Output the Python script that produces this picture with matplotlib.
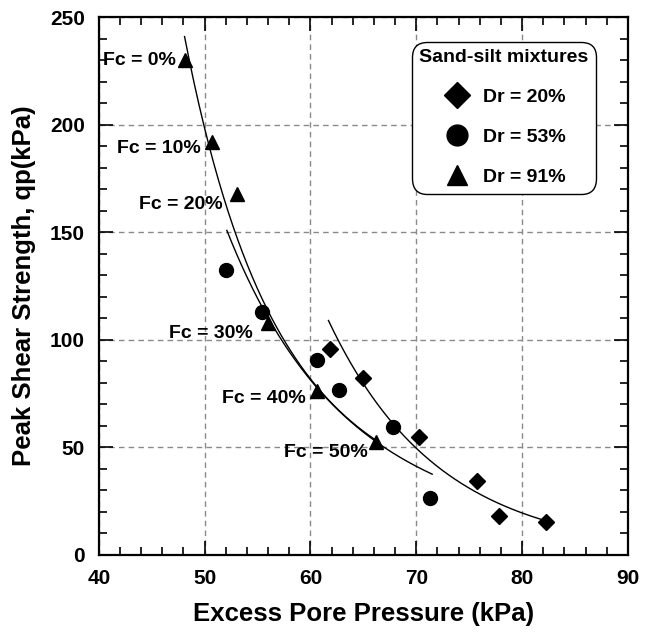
import numpy as np
import matplotlib
matplotlib.use('agg')
import matplotlib.pyplot as plt
from matplotlib.lines import Line2D

plt.rcParams['font.family'] = ['Liberation Sans', 'DejaVu Sans']
plt.rcParams['font.weight'] = 'bold'

# data points
dr20_x = [61.8, 65.0, 70.3, 75.7, 77.8, 82.3]
dr20_y = [95.7, 82.3, 55.0, 34.4, 18.0, 15.3]

dr53_x = [52.0, 55.4, 60.6, 62.7, 67.8, 71.3]
dr53_y = [132.5, 113.0, 90.6, 76.7, 59.5, 26.5]

dr91_x = [48.1, 50.7, 53.1, 56.0, 60.6, 66.2]
dr91_y = [230.0, 192.0, 168.0, 108.0, 76.0, 52.5]

fc_labels = ['Fc = 0%', 'Fc = 10%', 'Fc = 20%', 'Fc = 30%', 'Fc = 40%', 'Fc = 50%']
fc_label_x = [47.3, 49.6, 51.7, 54.55, 59.6, 65.4]
fc_label_y = [230, 189, 163, 102.7, 72.5, 47.4]

# points
curve91_x = [48.1, 50.02, 52.85, 57.58, 66.3]
curve91_y = [239.0, 199.8, 151.0, 98.5, 53.0]
curve53_x = [52.1, 57.3, 61.0, 67.2, 69.7, 71.5]
curve53_y = [152.0, 98.5, 75.0, 50.0, 42.7, 36.7]
curve20_x = [61.7, 67.8, 70.0, 75.7, 80.0, 82.2]
curve20_y = [109.7, 59.5, 50.2, 29.3, 19.5, 15.8]


def trend(xs, ys):
    # quadratic fit in log space, drawn between the end points
    c = np.polyfit(xs, np.log(ys), 2)
    xx = np.linspace(min(xs), max(xs), 200)
    return xx, np.exp(np.polyval(c, xx))


fig = plt.figure(figsize=(6.46, 6.37), dpi=100)
ax = fig.add_axes([0.153, 0.129, 0.819, 0.844])

ax.grid(True, which='major', color='#8a8a8a', linestyle=(0, (4, 3)), linewidth=1)
ax.set_axisbelow(True)

for cx, cy in [(curve91_x, curve91_y), (curve53_x, curve53_y), (curve20_x, curve20_y)]:
    xx, yy = trend(cx, cy)
    ax.plot(xx, yy, color='black', linewidth=1.0, zorder=2)

ax.plot(dr20_x, dr20_y, 'D', color='black', markersize=8.5, linestyle='none', zorder=3)
ax.plot(dr53_x, dr53_y, 'o', color='black', markersize=10, linestyle='none', zorder=3)
ax.plot(dr91_x, dr91_y, '^', color='black', markersize=9.5, linestyle='none', zorder=3)

for t, lx, ly in zip(fc_labels, fc_label_x, fc_label_y):
    ax.text(lx, ly, t, ha='right', va='center', fontsize=14, fontweight='bold')

ax.set_xlim(40, 90)
ax.set_ylim(0, 250)
ax.set_xticks(np.arange(40, 91, 10))
ax.set_yticks(np.arange(0, 251, 50))
ax.set_xticks(np.arange(40, 91, 2), minor=True)
ax.set_yticks(np.arange(0, 251, 10), minor=True)
ax.tick_params(which='both', direction='in', top=True, right=True, width=1.2)
ax.tick_params(which='major', length=10, labelsize=15, pad=10)
ax.tick_params(which='minor', length=6)
for s in ax.spines.values():
    s.set_linewidth(1.6)

ax.set_xlabel('Excess Pore Pressure (kPa)', fontsize=18.5, fontweight='bold', labelpad=10)
ax.set_ylabel('Peak Shear Strength, qp(kPa)', fontsize=18.5, fontweight='bold', labelpad=10)

handles = [Line2D([], [], marker='D', color='black', linestyle='none', markersize=13),
           Line2D([], [], marker='o', color='black', linestyle='none', markersize=15),
           Line2D([], [], marker='^', color='black', linestyle='none', markersize=15)]
labels = ['Dr = 20%', 'Dr = 53%', 'Dr = 91%']
leg = ax.legend(handles, labels, title='Sand-silt mixtures', loc='upper left',
                bbox_to_anchor=(0.5747, 0.971), prop={'size': 14, 'weight': 'bold'},
                title_fontproperties={'size': 14, 'weight': 'bold'},
                labelspacing=1.15, handletextpad=0.6, borderpad=0.35, handlelength=1.5,
                frameon=True, fancybox=True)
fr = leg.get_frame()
fr.set_edgecolor('black')
fr.set_linewidth(1.0)
fr.set_alpha(1)
fr.set_boxstyle('round,pad=0.05,rounding_size=0.8')

fig.savefig('out.png', dpi=100)
